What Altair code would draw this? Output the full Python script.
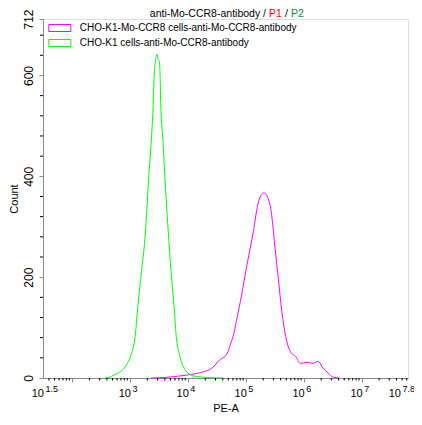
import math
import altair as alt
import pandas as pd

# ---------------- data ----------------
series_names = [
    "CHO-K1-Mo-CCR8 cells-anti-Mo-CCR8-antibody",
    "CHO-K1 cells-anti-Mo-CCR8-antibody",
]
series_colors = ["#ff00ff", "#00ff00"]

# x values are log10(PE-A)
green_logx = [2.57, 2.66, 2.71, 2.80, 2.88, 2.96, 3.03, 3.09, 3.14, 3.20, 3.26,
              3.33, 3.37, 3.40, 3.42, 3.44, 3.466, 3.49, 3.51, 3.52, 3.534,
              3.57, 3.60, 3.67, 3.71, 3.76, 3.80, 3.85, 3.95, 4.02, 4.15, 4.35, 4.60]
green_count = [0, 2, 5, 10, 17, 30, 49, 82, 146, 212, 277,
               407, 472, 537, 603, 628, 642, 632, 628, 603, 537,
               472, 407, 277, 212, 146, 82, 49, 17, 8, 3, 1, 0]

mag_logx = [3.37, 3.60, 3.86, 4.00, 4.15, 4.26, 4.41, 4.55, 4.67, 4.75, 4.78,
            4.84, 4.93, 5.01, 5.13, 5.21, 5.26, 5.31, 5.34, 5.38, 5.44, 5.50,
            5.56, 5.62, 5.69, 5.74, 5.79, 5.86, 5.94, 6.00, 6.07, 6.16, 6.25,
            6.33, 6.42, 6.50, 6.62]
mag_count = [0, 1, 4, 6, 9, 12, 19, 36, 47, 72, 82,
             114, 166, 218, 290, 345, 362, 367, 366, 358, 329, 264,
             199, 134, 82, 60, 49, 43, 29, 30, 31, 29, 33,
             20, 10, 2, 0]

x_major = [2, 3, 4, 5, 6, 7]
x_label_pos = [1.5, 3, 4, 5, 6, 7]
x_label_exp = ["1.5", "3", "4", "5", "6", "7"]
x_edge_pos = [7.8]
x_edge_exp = ["7.8"]
y_label_vals = [0, 200, 400, 600, 712]
y_minor = [v for v in range(40, 712, 40) if v % 200 != 0]
x_minor = [n + math.log10(k) for n in range(1, 8) for k in range(2, 10)
           if 1.5 < n + math.log10(k) < 7.8]

title_parts = ["anti-Mo-CCR8-antibody /", "P1", "/", "P2"]

# ---------------- chart ----------------
W, H = 365, 359
FONT = "Liberation Sans"

df = pd.concat([
    pd.DataFrame({"logx": mag_logx, "count": mag_count, "series": series_names[0]}),
    pd.DataFrame({"logx": green_logx, "count": green_count, "series": series_names[1]}),
])

xs = alt.Scale(domain=[1.5, 7.8], nice=False, zero=False)
ys = alt.Scale(domain=[0, 712], nice=False, zero=True)

x_axis = alt.Axis(values=x_major, labels=False, tickSize=4, grid=False, title="PE-A",
                  titleFont=FONT, titleFontSize=11, titleFontWeight="normal",
                  titlePadding=20)
y_axis = alt.Axis(values=y_label_vals, tickSize=4, grid=False, labelAngle=270,
                  labelAlign="center", labelBaseline="bottom", labelPadding=4,
                  labelFont=FONT, labelFontSize=12, title="Count",
                  titleFont=FONT, titleFontSize=11, titleFontWeight="normal",
                  titleAngle=270, titleX=-29, titleY=H / 2,
                  titleAlign="center", titleBaseline="middle")

lines = alt.Chart(df).mark_line(strokeWidth=1, interpolate="monotone").encode(
    x=alt.X("logx:Q", scale=xs, axis=x_axis),
    y=alt.Y("count:Q", scale=ys, axis=y_axis),
    color=alt.Color("series:N",
                    scale=alt.Scale(domain=series_names, range=series_colors),
                    legend=alt.Legend(title=None, orient="none", legendX=11.8, legendY=4,
                                      symbolType="M-3.143,-1H3.143V1H-3.143Z",
                                      symbolSize=49, symbolStrokeWidth=1,
                                      symbolFillColor="rgba(0,0,0,0)",
                                      labelFont=FONT, labelFontSize=10,
                                      labelColor="black", labelOffset=15,
                                      rowPadding=3, padding=0, labelLimit=400)),
)

xminor_layer = alt.Chart(pd.DataFrame({"logx": x_minor})).mark_rule(
    color="black", strokeWidth=1).encode(
    x=alt.X("logx:Q", scale=xs, axis=x_axis),
    y=alt.value(H), y2=alt.value(H + 2.5))

yminor_layer = alt.Chart(pd.DataFrame({"count": y_minor})).mark_rule(
    color="black", strokeWidth=1).encode(
    y=alt.Y("count:Q", scale=ys, axis=y_axis),
    x=alt.value(-3), x2=alt.value(0))


def tick_labels(pos, exps, shift):
    d = pd.DataFrame({"logx": pos, "e": exps})
    b = alt.Chart(d).mark_text(
        align="right", baseline="alphabetic", dx=1 + shift, font=FONT, fontSize=11,
        color="black").encode(
        x=alt.X("logx:Q", scale=xs, axis=x_axis), y=alt.value(H + 19),
        text=alt.value("10"))
    e = alt.Chart(d).mark_text(
        align="left", baseline="alphabetic", dx=2.5 + shift, font=FONT, fontSize=9,
        color="black").encode(
        x=alt.X("logx:Q", scale=xs, axis=x_axis), y=alt.value(H + 14), text="e:N")
    return [b, e]


def title_piece(txt, color, xpos, align):
    return alt.Chart(pd.DataFrame({"t": [txt]})).mark_text(
        align=align, baseline="alphabetic", font=FONT, fontSize=10.5, color=color).encode(
        text="t:N", x=alt.value(xpos), y=alt.value(-2))


layers = [lines, xminor_layer, yminor_layer]
layers += tick_labels(x_label_pos, x_label_exp, 0)
layers += tick_labels(x_edge_pos, x_edge_exp, -8)
layers += [
    title_piece(title_parts[0], "black", 223, "right"),
    title_piece(title_parts[1], "#ff0000", 226, "left"),
    title_piece(title_parts[2], "black", 243.5, "center"),
    title_piece(title_parts[3], "#0a8a3a", 248, "left"),
]

chart = alt.layer(*layers).properties(
    width=W, height=H,
    autosize=alt.AutoSizeParams(type="none"),
    padding={"left": 35, "top": 11, "right": 6, "bottom": 35},
).configure_view(stroke="black", strokeWidth=1).configure_axis(
    grid=False, domainColor="black", tickColor="black", labelColor="black",
    titleColor="black", domainWidth=1, tickWidth=1,
).configure(background="white")

chart.save("out.html", embed_options={"renderer": "svg", "actions": False})
